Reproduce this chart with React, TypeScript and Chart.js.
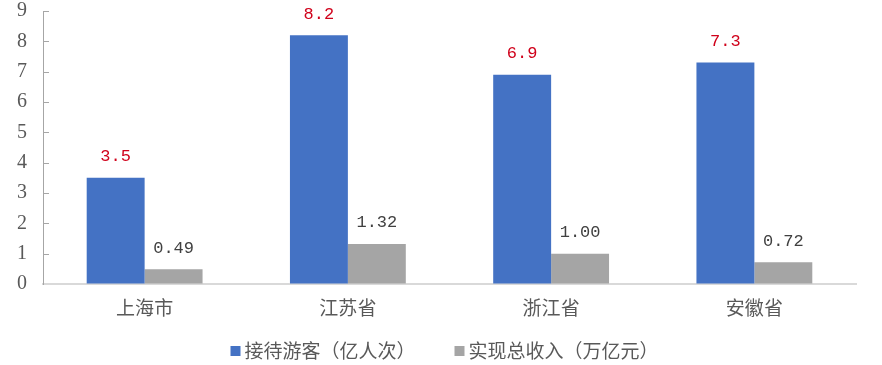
import React, { useEffect, useRef } from "react";
import { Chart, registerables } from "chart.js";

Chart.register(...registerables);

const categories = ["上海市", "江苏省", "浙江省", "安徽省"];
const visitors = [3.5, 8.2, 6.9, 7.3];
const revenue = [0.49, 1.32, 1.0, 0.72];
const seriesNames = ["接待游客（亿人次）", "实现总收入（万亿元）"];
const seriesColors = ["#4472C4", "#A5A5A5"];
const yTicks = [0, 1, 2, 3, 4, 5, 6, 7, 8, 9];

const CJK = '"Noto Sans CJK SC", sans-serif';

const labelPlugin = {
  id: "barLabels",
  afterDatasetsDraw(chart: any) {
    const ctx = chart.ctx;
    ctx.save();
    ctx.textAlign = "center";
    ctx.textBaseline = "middle";
    ctx.font = '17px "Liberation Mono", monospace';
    chart.data.datasets.forEach((ds: any, di: number) => {
      const meta = chart.getDatasetMeta(di);
      meta.data.forEach((bar: any, i: number) => {
        const v = ds.data[i];
        const txt = di === 0 ? v.toFixed(1) : v.toFixed(2);
        ctx.fillStyle = di === 0 ? "#d0021b" : "#404040";
        ctx.fillText(txt, bar.x, bar.y - 21);
      });
    });
    ctx.restore();
  },
};

const innerTicksPlugin = {
  id: "innerTicks",
  afterDraw(chart: any) {
    const ctx = chart.ctx;
    const y = chart.scales.y;
    const x0 = chart.chartArea.left;
    ctx.save();
    ctx.strokeStyle = "#a6a6a6";
    ctx.lineWidth = 1;
    yTicks.forEach((v) => {
      if (v === 0) return;
      const py = Math.round(y.getPixelForValue(v)) + 0.5;
      ctx.beginPath();
      ctx.moveTo(x0, py);
      ctx.lineTo(x0 + 6, py);
      ctx.stroke();
    });
    ctx.restore();
  },
};

const legendPlugin = {
  id: "customLegend",
  afterDraw(chart: any) {
    const ctx = chart.ctx;
    ctx.save();
    ctx.font = "19px " + CJK;
    ctx.textBaseline = "middle";
    ctx.textAlign = "left";
    const box = 10;
    const gap = 4;
    const spacing = 39;
    const widths = seriesNames.map((n) => ctx.measureText(n).width);
    const total = widths.reduce((a, w) => a + box + gap + w, 0) + spacing * (seriesNames.length - 1);
    let x = 444.5 - total / 2;
    const cy = 351;
    seriesNames.forEach((n, i) => {
      ctx.fillStyle = seriesColors[i];
      ctx.fillRect(x, cy - 5, box, box);
      x += box + gap;
      ctx.fillStyle = "#595959";
      ctx.fillText(n, x, cy);
      x += widths[i] + spacing;
    });
    ctx.restore();
  },
};

export default function App() {
  const ref = useRef<HTMLCanvasElement>(null);
  useEffect(() => {
    if (!ref.current) return;
    const chart = new Chart(ref.current, {
      type: "bar",
      data: {
        labels: categories,
        datasets: [
          {
            label: seriesNames[0],
            data: visitors,
            backgroundColor: seriesColors[0],
            barPercentage: 1,
            categoryPercentage: 0.57,
          },
          {
            label: seriesNames[1],
            data: revenue,
            backgroundColor: seriesColors[1],
            barPercentage: 1,
            categoryPercentage: 0.57,
          },
        ],
      },
      options: {
        animation: false,
        responsive: false,
        maintainAspectRatio: false,
        layout: { padding: { top: 11, right: 26, left: 0, bottom: 30 } },
        plugins: {
          legend: { display: false },
          tooltip: { enabled: false },
        },
        scales: {
          x: {
            afterFit: (s: any) => {
              s.height = 51;
            },
            grid: { display: false, drawTicks: false },
            border: { color: "#d9d9d9", width: 2 },
            ticks: {
              color: "#595959",
              padding: 12,
              font: { family: CJK, size: 19 },
            },
          },
          y: {
            min: 0,
            max: 9,
            afterFit: (s: any) => {
              s.width = 43;
              s.paddingTop = 0;
              s.paddingBottom = 0;
            },
            afterBuildTicks: (s: any) => {
              s.ticks = yTicks.map((v) => ({ value: v }));
            },
            grid: {
              display: true,
              drawOnChartArea: false,
              drawTicks: false,
            },
            border: { color: "#a6a6a6", width: 1 },
            ticks: {
              color: "#595959",
              padding: 16,
              font: { family: '"Liberation Serif", serif', size: 20, lineHeight: 1.1 },
            },
          },
        },
      },
      plugins: [labelPlugin, innerTicksPlugin, legendPlugin],
    });
    return () => chart.destroy();
  }, []);
  return (
    <div style={{ position: "fixed", left: 0, top: 0, width: 882, height: 365, background: "#fff" }}>
      <canvas ref={ref} width={882} height={365} style={{ display: "block" }} />
    </div>
  );
}
